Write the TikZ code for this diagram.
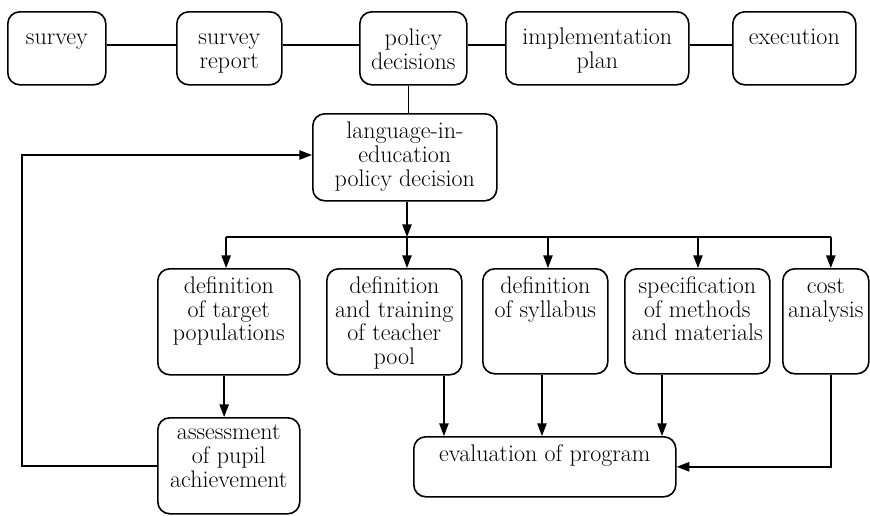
\documentclass[tikz,border=0pt]{standalone}
\usetikzlibrary{arrows.meta}

\tikzset{every picture/.style={line width=0.75pt}}
\tikzset{
  stage/.style={draw, rounded corners=9pt, line width=1.2pt, inner sep=0pt, anchor=north west,
    font=\fontsize{18}{17.8}\selectfont},
  link/.style={line width=1.1pt},
  flow/.style={line width=1.1pt, -{Triangle[length=9.5pt,width=7pt]}}
}

\begin{document}
\begin{tikzpicture}[x=0.75pt,y=0.75pt,yscale=-1,xscale=1]
\useasboundingbox (0,0) rectangle (870,515);

%Shape: Rounded Rect [top row]
\node [stage] (survey) at (7,11) {\begin{minipage}[t][54.75pt][t]{73.5pt}\centering\rule{0pt}{24.5pt}survey\end{minipage}};
\node [stage] (report) at (176,11) {\begin{minipage}[t][54.75pt][t]{78.75pt}\centering\rule{0pt}{24.5pt}survey\\report\end{minipage}};
\node [stage] (policy) at (359,11) {\begin{minipage}[t][54.75pt][t]{80.25pt}\centering\rule{0pt}{25.5pt}policy\\decisions\end{minipage}};
\node [stage] (plan) at (505,11) {\begin{minipage}[t][54.75pt][t]{137.25pt}\centering\rule{0pt}{24.5pt}implementation\\plan\end{minipage}};
\node [stage] (execution) at (732,11) {\begin{minipage}[t][54.75pt][t]{92.25pt}\centering\rule{0pt}{24.5pt}execution\end{minipage}};

%Shape: Rounded Rect [decision]
\node [stage] (langdec) at (312,113) {\begin{minipage}[t][65.25pt][t]{138pt}\centering\rule{0pt}{18.75pt}language-in-\\education\\policy decision\end{minipage}};

%Shape: Rounded Rect [second row]
\node [stage] (target) at (157,268) {\begin{minipage}[t][79.5pt][t]{106.5pt}\centering\rule{0pt}{18.5pt}definition\\of target\\populations\end{minipage}};
\node [stage] (teacher) at (326,268) {\begin{minipage}[t][79.5pt][t]{101.25pt}\centering\rule{0pt}{18.5pt}definition\\and training\\of teacher\\pool\end{minipage}};
\node [stage] (syllabus) at (482,268) {\begin{minipage}[t][78.75pt][t]{93.75pt}\centering\rule{0pt}{18.5pt}definition\\of syllabus\end{minipage}};
\node [stage] (methods) at (624,268) {\begin{minipage}[t][78.75pt][t]{108.75pt}\centering\rule{0pt}{18.5pt}specification\\of methods\\and materials\end{minipage}};
\node [stage] (cost) at (782,268) {\begin{minipage}[t][78.75pt][t]{64.5pt}\centering\rule{0pt}{18.5pt}cost\\analysis\end{minipage}};

%Shape: Rounded Rect [bottom row]
\node [stage] (assess) at (157,417) {\begin{minipage}[t][72pt][t]{106.5pt}\centering\rule{0pt}{16.5pt}assessment\\of pupil\\achievement\end{minipage}};
\node [stage] (evaluation) at (413,436) {\begin{minipage}[t][45pt][t]{196.5pt}\centering\rule{0pt}{18.75pt}evaluation of program\end{minipage}};

\coordinate (branch) at (407,237);
\coordinate (loop) at (22,155);

%Straight Lines [top row]
\draw [link] ([yshift=-2.5pt]survey.east) -- ([yshift=-2.5pt]report.west);
\draw [link] ([yshift=-2.5pt]report.east) -- ([yshift=-2.5pt]policy.west);
\draw [link] ([yshift=-2.5pt]policy.east) -- ([yshift=-2.5pt]plan.west);
\draw [link] ([yshift=-2.5pt]plan.east) -- ([yshift=-2.5pt]execution.west);
\draw [link] ([xshift=-3.5pt]policy.south) -- ([xshift=-3.5pt]policy.south |- langdec.north);

%Straight Lines [branching]
\draw [flow] (langdec.south -| branch) -- (branch);
\draw [link] ([xshift=-2pt]branch -| target.north) -- ([xshift=3.75pt]branch -| cost.north);
\draw [flow] ([xshift=-2pt]branch -| target.north) -- ([xshift=-2pt]target.north);
\draw [flow] (branch) -- (branch |- teacher.north);
\draw [flow] ([xshift=2pt]branch -| syllabus.north) -- ([xshift=2pt]syllabus.north);
\draw [flow] ([xshift=0.5pt]branch -| methods.north) -- ([xshift=0.5pt]methods.north);
\draw [flow] ([xshift=3.75pt]branch -| cost.north) -- ([xshift=3.75pt]cost.north);

%Straight Lines [to evaluation]
\draw [flow] ([xshift=-3.5pt]target.south) -- ([xshift=-3.5pt]assess.north);
\draw [flow] ([xshift=-14pt]teacher.south east) -- ([xshift=-14pt]teacher.south east |- evaluation.north);
\draw [flow] ([xshift=-2.5pt]syllabus.south) -- ([xshift=-2.5pt]syllabus.south |- evaluation.north);
\draw [flow] ([xshift=28.5pt]methods.south west) -- ([xshift=28.5pt]methods.south west |- evaluation.north);
\draw [flow] ([xshift=3.75pt]cost.south) |- (evaluation.east);

%Straight Lines [feedback]
\draw [flow] (assess.west) -- (assess.west -| loop) -- (loop) -- (loop -| langdec.west);

\end{tikzpicture}
\end{document}
